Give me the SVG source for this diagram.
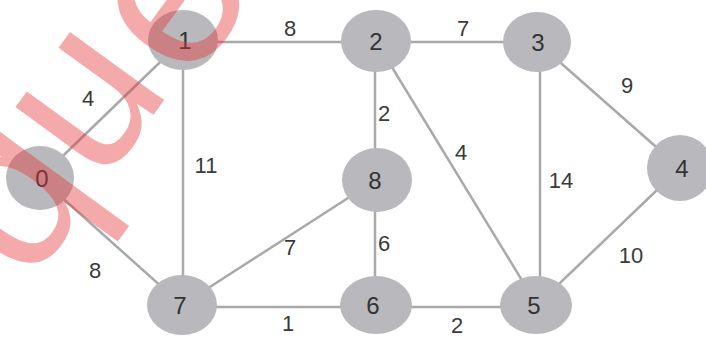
<svg xmlns="http://www.w3.org/2000/svg" width="706" height="338" viewBox="0 0 706 338">
<style>
.e{stroke:#a9a9a9;stroke-width:2.5;fill:none}
.n{fill:#b9b9bd}
.nl{font-family:"Liberation Sans",Arial,sans-serif;font-size:24px;fill:#333;text-anchor:middle}
.w{font-family:"Liberation Sans",Arial,sans-serif;font-size:22px;fill:#3a3a3a;text-anchor:middle}
.wm{font-family:"Liberation Sans",Arial,sans-serif;font-size:220px;fill:#e53535;fill-opacity:0.42}
</style>
<rect width="706" height="338" fill="#fff"/>
<g id="connectors">
<line class="e" x1="40" y1="178" x2="183" y2="40"/>
<line class="e" x1="183" y1="42" x2="376" y2="42"/>
<line class="e" x1="376" y1="42" x2="537" y2="42"/>
<line class="e" x1="537" y1="42" x2="680" y2="168"/>
<line class="e" x1="183" y1="40" x2="183" y2="305"/>
<line class="e" x1="375" y1="41" x2="375" y2="305"/>
<line class="e" x1="376" y1="41" x2="537" y2="305"/>
<line class="e" x1="540" y1="42" x2="540" y2="305"/>
<line class="e" x1="40" y1="178" x2="182" y2="305"/>
<line class="e" x1="376" y1="180" x2="182" y2="305"/>
<line class="e" x1="182" y1="307" x2="537" y2="307"/>
<line class="e" x1="537" y1="305" x2="680" y2="168"/>
<text class="w" x="88" y="106">4</text>
<text class="w" x="290" y="36">8</text>
<text class="w" x="463" y="36">7</text>
<text class="w" x="627" y="93">9</text>
<text class="w" x="206" y="173">11</text>
<text class="w" x="384" y="121">2</text>
<text class="w" x="461" y="160">4</text>
<text class="w" x="561" y="188">14</text>
<text class="w" x="384" y="251">6</text>
<text class="w" x="290" y="255">7</text>
<text class="w" x="95" y="278">8</text>
<text class="w" x="288" y="331">1</text>
<text class="w" x="457" y="333">2</text>
<text class="w" x="631" y="263">10</text>
</g>
<g id="node0"><ellipse class="n" cx="40" cy="178" rx="34" ry="32"/><text class="nl" x="42" y="187">0</text></g>
<g id="node1"><ellipse class="n" cx="183" cy="40" rx="35" ry="30"/><text class="nl" x="185" y="49">1</text></g>
<g id="node2"><ellipse class="n" cx="376" cy="41" rx="35" ry="31"/><text class="nl" x="376" y="50">2</text></g>
<g id="node3"><ellipse class="n" cx="537" cy="42" rx="34" ry="30"/><text class="nl" x="538" y="51">3</text></g>
<g id="node4"><ellipse class="n" cx="680" cy="168" rx="33" ry="33"/><text class="nl" x="682" y="177">4</text></g>
<g id="node8"><ellipse class="n" cx="377" cy="180" rx="35" ry="32"/><text class="nl" x="375" y="189">8</text></g>
<g id="node7"><ellipse class="n" cx="182" cy="305" rx="35" ry="30"/><text class="nl" x="180" y="314">7</text></g>
<g id="node6"><ellipse class="n" cx="376" cy="305" rx="36" ry="29"/><text class="nl" x="373" y="314">6</text></g>
<g id="node5"><ellipse class="n" cx="536" cy="305" rx="36" ry="29"/><text class="nl" x="534" y="314">5</text></g>
<text class="wm" transform="translate(29,286) rotate(-54)">qu<tspan dx="10" dy="12">e</tspan></text>
</svg>
